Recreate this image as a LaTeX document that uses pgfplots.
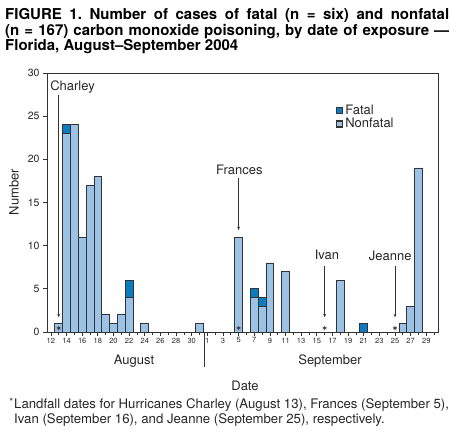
\documentclass[border=0pt]{standalone}
\usepackage{fontspec}
\setmainfont{TeX Gyre Heros}
\setsansfont{TeX Gyre Heros}
\usepackage{pgfplots}
\pgfplotsset{compat=1.18}
\usetikzlibrary{arrows.meta}
\definecolor{nonfatal}{HTML}{9CC2E5}
\definecolor{fatal}{HTML}{0A7CBF}
\definecolor{edge}{HTML}{333333}
\definecolor{ink}{HTML}{262626}
\newcommand\lbl{\fontsize{13bp}{15bp}\selectfont}
\tikzset{hurr/.style={edge, line width=0.7bp, -{Stealth[length=3.5bp,width=2.8bp]}}}

\begin{document}
\frenchspacing
\begin{tikzpicture}[x=1bp,y=1bp]
\path[use as bounding box] (0,0) rectangle (455,443);
\begin{axis}[
  at={(47bp,111bp)}, anchor=south west,
  scale only axis, width=391bp, height=259bp,
  xmin=-0.5, xmax=49.5, ymin=0, ymax=30,
  ybar stacked, bar width=1,
  xtick={0,2,...,48},
  xticklabels={12,14,16,18,20,22,24,26,28,30,1,3,5,7,9,11,13,15,17,19,21,23,25,27,29},
  minor xtick={1,3,...,49},
  ytick={0,5,...,30},
  xtick pos=bottom, ytick pos=left,
  tick align=outside, major tick length=4bp, minor tick length=3.5bp,
  axis line style={edge, line width=0.8bp},
  tick style={edge, line width=0.7bp},
  x tick label style={font=\fontsize{7.5bp}{8bp}\selectfont, text=ink, inner sep=1.5bp},
  y tick label style={font=\fontsize{10.5bp}{12bp}\selectfont, text=ink},
  /pgf/number format/assume math mode=true,
  clip=false,
  reverse legend,
  legend style={at={(rel axis cs:0.739,0.885)}, anchor=north west, draw=none, fill=none,
    font=\lbl, text=ink, inner sep=0pt, row sep=-1.5bp, cells={anchor=west}},
]
\addplot[fill=nonfatal, draw=edge, line width=0.8bp,
  legend image code/.code={\draw[fill=nonfatal, draw=edge, line width=1.2bp] (0bp,-3bp) rectangle (6bp,3bp);}]
  coordinates {(1,1)(2,23)(3,24)(4,11)(5,17)(6,18)(7,2)(8,1)(9,2)(10,4)(12,1)(19,1)
  (24,11)(26,4)(27,3)(28,8)(30,7)(37,6)(40,0)(45,1)(46,3)(47,19)};
\addlegendentry{Nonfatal}
\addplot[fill=fatal, draw=edge, line width=0.8bp,
  legend image code/.code={\draw[fill=fatal, draw=edge, line width=1.2bp] (0bp,-3bp) rectangle (6bp,3bp);}]
  coordinates {(1,0)(2,1)(3,0)(4,0)(5,0)(6,0)(7,0)(8,0)(9,0)(10,2)(12,0)(19,0)
  (24,0)(26,1)(27,1)(28,0)(30,0)(37,0)(40,1)(45,0)(46,0)(47,0)};
\addlegendentry{Fatal}
% landfall dates
\addplot[forget plot, stack plots=false, sharp plot, only marks, mark=asterisk,
  mark size=2.2bp, edge, mark options={line width=0.6bp}]
  coordinates {(1,0.45)(24,0.45)(35,0.45)(44,0.45)};

\node[anchor=west, inner sep=0, font=\lbl, text=ink] at (axis cs:-0.1,28.4) {Charley};
\draw[hurr] (axis cs:1,27.5) -- (axis cs:1,1.7);
\node[inner sep=0, font=\lbl, text=ink] at (axis cs:24.1,18.8) {Frances};
\draw[hurr] (axis cs:24,17.8) -- (axis cs:24,11.8);
\node[inner sep=0, font=\lbl, text=ink] at (axis cs:35.3,8.9) {Ivan};
\draw[hurr] (axis cs:35,7.6) -- (axis cs:35,1.7);
\node[inner sep=0, font=\lbl, text=ink] at (axis cs:43.4,8.8) {Jeanne};
\draw[hurr] (axis cs:44,7.6) -- (axis cs:44,1.7);
\end{axis}

\draw[edge, line width=0.8bp] (204,111) -- (204,76);
\node[font=\lbl, text=ink] at (134,82) {August};
\node[font=\lbl, text=ink] at (330,82) {September};
\node[font=\lbl, text=ink] at (245,57) {Date};
\node[font=\lbl, text=ink, rotate=90] at (14,251) {Number};

\node[anchor=north west, inner sep=0, text width=444bp, align=justify,
  font=\bfseries\fontsize{15bp}{15.7bp}\selectfont]
  at (5,435) {FIGURE 1. Number of cases of fatal (n = six) and nonfatal\linebreak
  (n = 167) carbon monoxide poisoning, by date of exposure —\linebreak
  Florida, August–September 2004};

\node[anchor=north east, inner sep=0, font=\fontsize{10bp}{10bp}\selectfont, text=ink] at (13.5,45) {*};
\node[anchor=north west, inner sep=0, align=left, font=\fontsize{13.2bp}{15bp}\selectfont, text=ink]
  at (14,45) {Landfall dates for Hurricanes Charley (August 13), Frances (September 5),\\
  Ivan (September 16), and Jeanne (September 25), respectively.};
\end{tikzpicture}
\end{document}
